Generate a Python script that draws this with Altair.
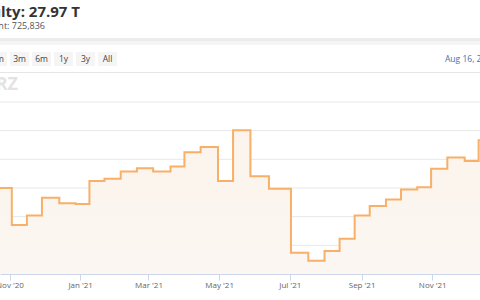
import altair as alt
import pandas as pd

# ---- data ----
dates = ["2020-10-20", "2020-11-03", "2020-11-16", "2020-11-29", "2020-12-14", "2020-12-28",
         "2021-01-09", "2021-01-22", "2021-02-05", "2021-02-19", "2021-03-05", "2021-03-20",
         "2021-04-01", "2021-04-15", "2021-04-30", "2021-05-13", "2021-05-28", "2021-06-13",
         "2021-07-02", "2021-07-17", "2021-07-31", "2021-08-13", "2021-08-26", "2021-09-08",
         "2021-09-22", "2021-10-05", "2021-10-19", "2021-10-31", "2021-11-14", "2021-11-29",
         "2021-12-11", "2021-12-14"]
values = [20.0, 16.77, 17.61, 19.14, 18.68, 18.6,
          20.62, 20.8, 21.44, 21.73, 21.44, 21.88,
          23.12, 23.58, 20.62, 25.04, 21.03, 19.93,
          14.35, 13.66, 14.5, 15.57, 17.61, 18.42,
          19.0, 19.87, 20.07, 21.67, 22.66, 22.36,
          24.17, 24.17]
grid_values = [15, 17.5, 20, 22.5, 25, 27.5]
tick_months = [(2020, 11), (2021, 1), (2021, 3), (2021, 5), (2021, 7), (2021, 9), (2021, 11)]
buttons = ["1m", "3m", "6m", "1y", "3y", "All"]
title_text = "Difficulty: 27.97 T"
subtitle_text = "Block count: 725,836"
date_text = "Aug 16, 2022"
watermark_text = "RZ"

# ---- layout ----
W, H = 480, 172
TOP = 102
FONT = "Open Sans"

df = pd.DataFrame({"date": dates, "value": values})

x_scale = alt.Scale(
    type="utc",
    domain=[alt.DateTime(year=2020, month=10, date=23, hours=19, utc=True),
            alt.DateTime(year=2021, month=12, date=12, hours=5, utc=True)],
)
y_scale = alt.Scale(domain=[12.5, 27.5], zero=False, nice=False)

x_axis = alt.Axis(
    values=[alt.DateTime(year=y, month=m, date=1, utc=True) for y, m in tick_months],
    format="%b '%y", title=None, grid=False,
    domainColor="#ccd6eb", tickColor="#ccd6eb", tickSize=6,
    labelColor="#666666", labelFontSize=8, labelFont=FONT, labelPadding=1,
    labelFlush=False, labelOverlap=False, zindex=1,
)

grid = alt.Chart(pd.DataFrame({"g": grid_values})).mark_rule(
    color="#e8e8e8", strokeWidth=1
).encode(y=alt.Y("g:Q", scale=y_scale, axis=None))

gradient = alt.Gradient(
    gradient="linear",
    stops=[alt.GradientStop(color="#fcf4ec", offset=0),
           alt.GradientStop(color="#faf9f8", offset=1)],
    x1=1, x2=1, y1=0, y2=1,
)

area = alt.Chart(df).mark_area(interpolate="step-after", clip=True, fill=gradient).encode(
    x=alt.X("date:T", scale=x_scale, axis=x_axis),
    y=alt.Y("value:Q", scale=y_scale, axis=None),
    y2=alt.value(H),
)

line = alt.Chart(df).mark_line(
    interpolate="step-after", clip=True, color="#f8b068", strokeWidth=2
).encode(
    x=alt.X("date:T", scale=x_scale, axis=x_axis),
    y=alt.Y("value:Q", scale=y_scale, axis=None),
)

one = pd.DataFrame({"k": [0]})


def text_layer(txt, x, y, **kw):
    return alt.Chart(one).mark_text(text=txt, font=FONT, **kw).encode(
        x=alt.value(x), y=alt.value(y - TOP)
    )


def rect_layer(x0, x1, y0, y1, color):
    return alt.Chart(one).mark_rect(color=color).encode(
        x=alt.value(x0), x2=alt.value(x1), y=alt.value(y0 - TOP), y2=alt.value(y1 - TOP)
    )


overlays = [
    text_layer(title_text, 80, 17, align="right", baseline="alphabetic",
               fontSize=15, fontWeight="bold", color="#333333"),
    text_layer(subtitle_text, 45, 26, align="right", baseline="middle",
               fontSize=9, color="#555555"),
    rect_layer(0, W, 38, 41, "#ececec"),
    rect_layer(0, W, 41, 45, "#f5f5f5"),
    rect_layer(0, W, 72, 73, "#e6e6e6"),
    text_layer(date_text, 445, 59, align="left", baseline="middle",
               fontSize=8.5, color="#4a6fa8"),
    text_layer(watermark_text, 18, 85, align="right", baseline="middle",
               fontSize=18, fontWeight="bold", color="#e3e3e3"),
]
for i, b in enumerate(buttons):
    cx = -2.5 + 22 * i
    overlays.append(rect_layer(cx - 9.5, cx + 9.5, 52, 66, "#f5f5f5"))
    overlays.append(text_layer(b, cx, 59, align="center", baseline="middle",
                               fontSize=8.5, color="#444444"))

chart = alt.layer(grid, area, line, *overlays).properties(
    width=W, height=H,
    autosize=alt.AutoSizeParams(type="none"),
    padding={"left": 0, "right": 0, "top": TOP, "bottom": 300 - TOP - H},
).configure_view(stroke=None)

chart.save("out.html", embed_options={"renderer": "svg", "actions": False})
